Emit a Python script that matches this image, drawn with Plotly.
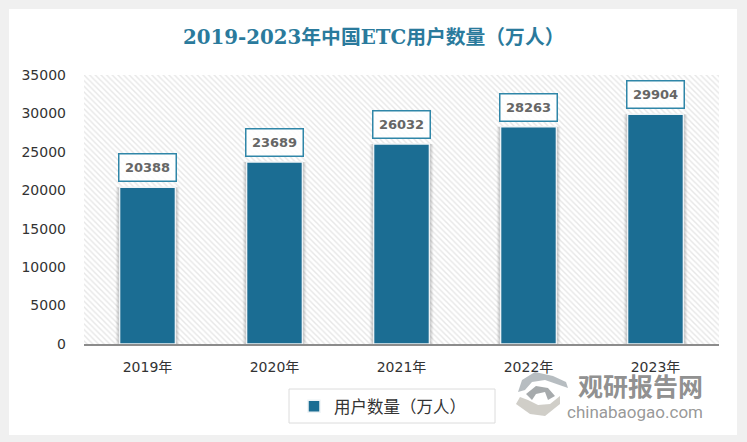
import plotly.graph_objects as go

years = ["2019年", "2020年", "2021年", "2022年", "2023年"]
users = [20388, 23689, 26032, 28263, 29904]
y_ticks = [0, 5000, 10000, 15000, 20000, 25000, 30000, 35000]
y_max = 35000
series_name = "用户数量（万人）"
title_text = "2019-2023年中国ETC用户数量（万人）"

BAR = "#1b6d93"
TEAL = "#2f86a8"

# plot area in pixels, used to place the decoration
L, R, T, B = 84, 719, 75, 344


def px(x):
    return (x - L) / (R - L)


def py(y):
    return (B - y) / (B - T)


def rect(x0, y0, x1, y1, fill, line=None):
    return dict(type="rect", xref="paper", yref="paper", layer="below",
                x0=px(x0), x1=px(x1), y0=py(y0), y1=py(y1),
                fillcolor=fill, line=dict(width=1 if line else 0, color=line or fill))


def blade(points, fill):
    # logo pieces, given in pixels
    d = "M" + " L".join("%.4f,%.4f" % (px(a), py(b)) for a, b in points) + " Z"
    return dict(type="path", xref="paper", yref="paper", path=d,
                fillcolor=fill, line=dict(width=0))


fig = go.Figure()

# hatched plot background
fig.add_trace(go.Bar(
    x=[0], y=[y_max], width=[1], xaxis="x", yaxis="y",
    marker=dict(color="white", line=dict(width=0),
                pattern=dict(shape="\\", size=4, solidity=0.35, fgcolor="#cfcfcf", bgcolor="white")),
    showlegend=False, hoverinfo="skip",
))

# soft shadow behind the bars
for w, alpha in [(0.50, 0.06), (0.475, 0.10), (0.455, 0.14)]:
    fig.add_trace(go.Bar(
        x=years, y=users, width=w, xaxis="x2", yaxis="y",
        marker=dict(color="rgba(0,0,0,%s)" % alpha, line=dict(width=0)),
        showlegend=False, hoverinfo="skip",
    ))

fig.add_trace(go.Bar(
    x=years, y=users, width=0.44, name=series_name, xaxis="x2", yaxis="y",
    marker=dict(color=BAR, line=dict(color="#eef3f6", width=1.5)),
))

annotations = []
for year, val in zip(years, users):
    annotations.append(dict(
        x=year, y=val, xref="x2", yref="y", yanchor="bottom", yshift=5,
        text="<b>%d</b>" % val, showarrow=False, width=54, height=24,
        font=dict(family="DejaVu Sans", size=13, color="#666666"),
        bgcolor="rgba(255,255,255,0.85)", bordercolor=TEAL, borderwidth=1.5, borderpad=1,
    ))

annotations.append(dict(
    x=px(373), y=py(37), xref="paper", yref="paper", xanchor="center", yanchor="middle",
    text="<b>" + title_text + "</b>", showarrow=False,
    font=dict(family="DejaVu Serif, Noto Sans CJK SC", size=19.8, color="#2a7a9c"),
))
annotations.append(dict(
    x=px(640), y=py(385), xref="paper", yref="paper", xanchor="center", yanchor="middle",
    text="<b>观研报告网</b>", showarrow=False,
    font=dict(family="Noto Sans CJK SC", size=25, color="rgba(130,130,130,0.9)"),
))
annotations.append(dict(
    x=px(635), y=py(412), xref="paper", yref="paper", xanchor="center", yanchor="middle",
    text="chinabaogao.com", showarrow=False,
    font=dict(family="Roboto", size=17, color="rgba(140,140,140,0.9)"),
))

shapes = [
    rect(9, 9, 737, 435, "white"),
    rect(289, 389, 495, 423, "white", "#dcdcdc"),
    blade([(553, 376), (535, 372), (522, 380), (518, 392), (525, 390), (532, 382), (545, 380), (568, 388), (566, 382)], "rgba(170,178,182,0.85)"),
    blade([(516, 404), (530, 414), (545, 416), (560, 404), (560, 396), (550, 404), (538, 405), (528, 400), (520, 397)], "rgba(200,198,190,0.85)"),
    blade([(536, 386), (526, 394), (532, 400), (536, 394), (545, 392), (548, 400), (555, 396), (548, 388)], "rgba(150,155,158,0.85)"),
]

fig.update_layout(
    width=747, height=442,
    margin=dict(l=L, r=747 - R, t=T, b=442 - B, autoexpand=False),
    paper_bgcolor="#f0f0f0", plot_bgcolor="rgba(0,0,0,0)",
    barmode="overlay", shapes=shapes, annotations=annotations,
    font=dict(family="DejaVu Sans, Noto Sans CJK SC", color="#333333"),
    xaxis=dict(range=[-0.5, 0.5], visible=False, fixedrange=True),
    xaxis2=dict(overlaying="x", anchor="y", side="bottom", type="category", categoryorder="array",
                categoryarray=years, range=[-0.5, 4.5], showgrid=False, showline=True, linecolor="#8c8c8c",
                linewidth=1.5, ticks="", tickfont=dict(size=14, family="DejaVu Sans, Noto Sans CJK SC", color="#333333"),
                ticklabelstandoff=9),
    yaxis=dict(range=[0, y_max], tickvals=y_ticks, tickformat="d", showgrid=False, zeroline=False,
               showline=False, ticks="", tickfont=dict(size=14, color="#333333"), ticklabelstandoff=17),
    legend=dict(xref="container", yref="container", x=294 / 747, y=1 - 389 / 442, xanchor="left", yanchor="top",
                bordercolor="rgba(0,0,0,0)", borderwidth=0, bgcolor="rgba(0,0,0,0)",
                font=dict(family="Noto Sans CJK SC", size=16.5, color="#333333"), itemwidth=30),
    showlegend=True,
)

fig.write_html("out.html", config=dict(displayModeBar=False),
               post_script="document.body.style.margin='0';")
